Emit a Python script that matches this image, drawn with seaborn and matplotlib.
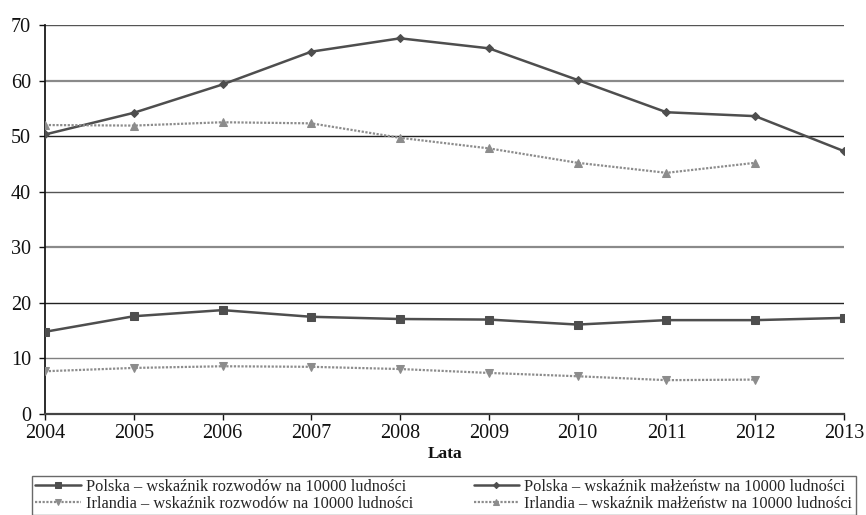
import matplotlib
matplotlib.use("Agg")
import matplotlib.pyplot as plt
import seaborn as sns
import pandas as pd

years = [2004, 2005, 2006, 2007, 2008, 2009, 2010, 2011, 2012, 2013]
pl_rozwody = [14.8, 17.6, 18.7, 17.5, 17.1, 17.0, 16.1, 16.9, 16.9, 17.3]
ie_rozwody = [7.7, 8.3, 8.6, 8.5, 8.1, 7.4, 6.8, 6.1, 6.2]
pl_malzenstwa = [50.3, 54.2, 59.3, 65.2, 67.6, 65.8, 60.1, 54.3, 53.6, 47.3]
ie_malzenstwa = [52.0, 51.9, 52.5, 52.3, 49.7, 47.8, 45.2, 43.4, 45.2]

labels = [
    "Polska – wskaźnik rozwodów na 10000 ludności",
    "Irlandia – wskaźnik rozwodów na 10000 ludności",
    "Polska – wskaźnik małżeństw na 10000 ludności",
    "Irlandia – wskaźnik małżeństw na 10000 ludności",
]
y_ticks = [0, 10, 20, 30, 40, 50, 60, 70]

sns.set_theme(style="white")
plt.rcParams['font.family'] = ['Liberation Serif', 'DejaVu Serif']

fig = plt.figure(figsize=(8.66, 5.15), dpi=100)
ax = fig.add_axes([0.052, 0.196, 0.9226, 0.7555])

grid_colors = {10: "#808080", 20: "#222222", 30: "#8a8a8a", 40: "#555555",
               50: "#222222", 60: "#8a8a8a", 70: "#555555"}
for v in y_ticks[1:]:
    ax.axhline(v, color=grid_colors[v], lw=1.6 if grid_colors[v] == "#8a8a8a" else 1.0, zorder=1)

dark = "#4e4e4e"
light = "#8c8c8c"
series = [
    (years, pl_rozwody, labels[0], dark, "-", "s", 5.5, 1.8),
    (years[:9], ie_rozwody, labels[1], light, (0, (1, 0.7)), "v", 6, 1.6),
    (years, pl_malzenstwa, labels[2], dark, "-", "D", 4.5, 1.8),
    (years[:9], ie_malzenstwa, labels[3], light, (0, (1, 0.7)), "^", 6, 1.6),
]
for xs, ys, lab, col, ls, mk, ms, lw in series:
    df = pd.DataFrame({"x": xs, "y": ys})
    sns.lineplot(data=df, x="x", y="y", ax=ax, color=col, linestyle=ls,
                 marker=mk, markersize=ms, markeredgecolor=col, lw=lw,
                 label=lab, zorder=3)

ax.set_xlim(2004, 2013)
ax.set_ylim(0, 70)
ax.set_xticks(years)
ax.set_yticks(y_ticks)
ax.tick_params(axis="both", labelsize=14.5, colors="#111111", length=4,
               width=1, direction="out", bottom=True, left=True)
ax.tick_params(axis="x", pad=3)
ax.tick_params(axis="y", pad=6)
for s in ["top", "right"]:
    ax.spines[s].set_visible(False)
ax.spines["left"].set_color("#111111")
ax.spines["bottom"].set_color("#444444")
ax.spines["bottom"].set_linewidth(1.6)
ax.set_xlabel("Lata", fontsize=12.5, fontweight="bold", labelpad=2, color="#111111")
ax.set_ylabel("")

ax.legend(loc="lower left", bbox_to_anchor=(0.037, 0.0, 0.951, 0.09),
          bbox_transform=fig.transFigure, mode="expand", ncol=2,
          fontsize=11.8, frameon=True, fancybox=False, edgecolor="#444444",
          handlelength=2.8, handletextpad=0.3, borderpad=0.2,
          labelspacing=0.05, borderaxespad=0, markerscale=0.7)
leg = ax.get_legend()
leg.get_frame().set_linewidth(1.0)

fig.savefig("out.png", dpi=100)
